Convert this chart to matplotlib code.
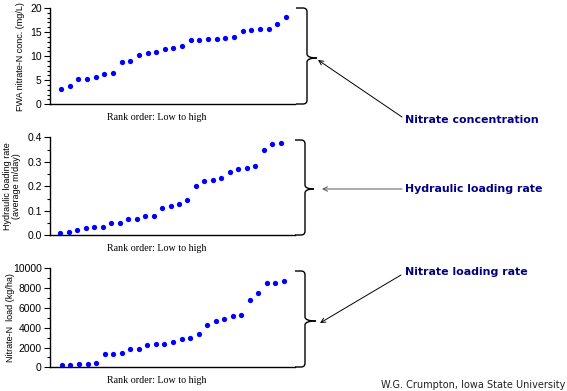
import matplotlib
matplotlib.use("Agg")
import matplotlib.pyplot as plt
from matplotlib.path import Path
from matplotlib.patches import PathPatch
from matplotlib.ticker import MultipleLocator
import numpy as np

# ---- data ----
rank = list(range(1, 28))
nitrate_conc = [3.2, 3.8, 5.2, 5.2, 5.6, 6.2, 6.6, 8.7, 9.0, 10.3, 10.6, 10.9, 11.4, 11.7,
                12.1, 13.3, 13.4, 13.6, 13.6, 13.8, 14.0, 15.2, 15.5, 15.7, 15.7, 16.6, 18.2]
hydraulic_rate = [0.011, 0.015, 0.022, 0.031, 0.035, 0.035, 0.050, 0.050, 0.067, 0.068,
                  0.078, 0.078, 0.113, 0.121, 0.129, 0.143, 0.203, 0.223, 0.224, 0.235,
                  0.258, 0.270, 0.273, 0.283, 0.350, 0.374, 0.377]
nitrate_load = [200, 230, 370, 370, 470, 1310, 1310, 1450, 1850, 1850, 2220, 2390, 2390,
                2590, 2900, 2960, 3400, 4310, 4710, 4920, 5220, 5320, 6830, 7470, 8480,
                8480, 8720]
xlabel_text = "Rank order: Low to high"
ylabels = ["FWA nitrate-N conc. (mg/L)", "Hydraulic loading rate\n(average m/day)",
           "Nitrate-N  load (kg/ha)"]
notes = ["Nitrate concentration", "Hydraulic loading rate", "Nitrate loading rate"]
credit = "W.G. Crumpton, Iowa State University"

W, H = 567, 391
fig = plt.figure(figsize=(W / 100, H / 100), dpi=100)

def px_axes(left, top, right, bottom):
    return fig.add_axes([left / W, 1 - bottom / H, (right - left) / W, (bottom - top) / H])

panels = [
    dict(box=(50, 8, 295, 104.3), y=nitrate_conc, ylim=(0, 20), major=5, minor=1,
         xlim=(-0.27, 28.04), ylab_x=-0.100),
    dict(box=(50, 137.3, 295, 235.3), y=hydraulic_rate, ylim=(0, 0.4), major=0.1, minor=0.05,
         xlim=(-0.18, 28.65), ylab_x=-0.118),
    dict(box=(50, 268.3, 295, 367.3), y=nitrate_load, ylim=(0, 10000), major=2000, minor=1000,
         xlim=(-0.40, 28.29), ylab_x=-0.142),
]

for i, p in enumerate(panels):
    ax = px_axes(*p["box"])
    ax.plot(rank, p["y"], linestyle="none", marker="o", markersize=3.8,
            color="#0000FF", markeredgewidth=0, clip_on=False)
    ax.set_xlim(*p["xlim"])
    ax.set_ylim(*p["ylim"])
    for s in ["top", "right"]:
        ax.spines[s].set_visible(False)
    ax.spines["left"].set_linewidth(1.0)
    ax.spines["bottom"].set_linewidth(1.0)
    ax.set_xticks([])
    ax.yaxis.set_major_locator(MultipleLocator(p["major"]))
    ax.yaxis.set_minor_locator(MultipleLocator(p["minor"]))
    ax.tick_params(axis="y", which="major", length=4, width=0.8, labelsize=7.5, pad=2)
    ax.tick_params(axis="y", which="minor", length=2, width=0.8)
    for lab in ax.get_yticklabels():
        lab.set_fontfamily("Liberation Sans")
    ax.set_ylabel(ylabels[i], fontsize=6.5, fontfamily="Liberation Sans", linespacing=1.0)
    ax.yaxis.set_label_coords(p["ylab_x"], 0.5)
    ax.set_xlabel(xlabel_text, fontsize=7.2, fontfamily="Liberation Serif")
    ax.xaxis.set_label_coords(0.437, -0.09)

# overlay for braces, arrows and notes
ov = fig.add_axes([0, 0, 1, 1])
ov.set_xlim(0, W)
ov.set_ylim(H, 0)
ov.axis("off")

def brace(x0, x1, xt, ytop, ybot, ytip, r=4):
    verts_a = [
        (x0, ytop), (x1 - r, ytop), (x1, ytop), (x1, ytop + r),
        (x1, ytip - r), (x1, ytip), (xt, ytip),
    ]
    codes_a = [Path.MOVETO, Path.LINETO, Path.CURVE3, Path.CURVE3,
               Path.LINETO, Path.CURVE3, Path.CURVE3]
    verts_b = [
        (xt, ytip), (x1, ytip), (x1, ytip + r),
        (x1, ybot - r), (x1, ybot), (x1 - r, ybot), (x0, ybot),
    ]
    codes_b = [Path.MOVETO, Path.CURVE3, Path.CURVE3,
               Path.LINETO, Path.CURVE3, Path.CURVE3, Path.LINETO]
    for v, c in [(verts_a, codes_a), (verts_b, codes_b)]:
        ov.add_patch(PathPatch(Path(v, c), fill=False, lw=1.0, edgecolor="black"))

brace(296, 307, 317, 8, 104, 58)
brace(295, 305, 314, 140, 235, 189)
brace(295, 305, 316, 271, 367, 321)

arrows = [((402, 117), (318, 60), "black"),
          ((402, 189), (322, 189), "#555555"),
          ((401, 275), (320, 323), "black")]
for (xs, ys), (xe, ye), c in arrows:
    ov.annotate("", xy=(xe, ye), xytext=(xs, ys),
                arrowprops=dict(arrowstyle="->", color=c, lw=0.7,
                                shrinkA=0, shrinkB=0, mutation_scale=8))

note_pos = [(405, 120), (405, 189), (405, 272)]
for t, (x, y) in zip(notes, note_pos):
    ov.text(x, y, t, fontsize=7.9, fontweight="heavy", color="#000080",
            fontfamily="DejaVu Sans", ha="left", va="center")

ov.text(565, 385, credit, fontsize=7, fontfamily="DejaVu Sans", ha="right",
        va="center", color="#222222")

fig.savefig("out.png", dpi=100)
